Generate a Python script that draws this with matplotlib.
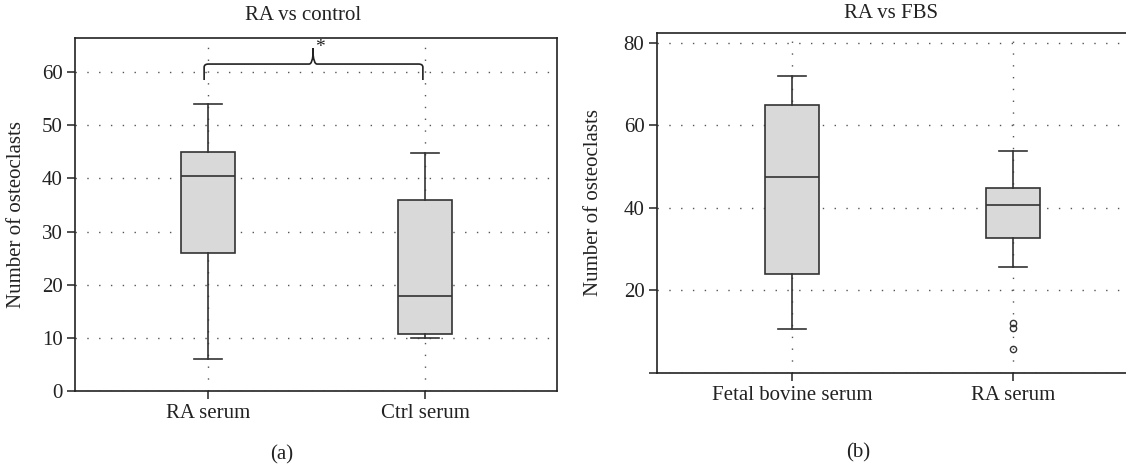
import matplotlib
matplotlib.use("Agg")
import matplotlib.pyplot as plt
from matplotlib.path import Path
from matplotlib.patches import PathPatch

plt.rcParams['font.family'] = ['Liberation Serif', 'DejaVu Serif']
plt.rcParams['font.size'] = 15

# ---- Data ----
left_categories = ["RA serum", "Ctrl serum"]
left_whislo = [6.0, 10.0]
left_q1 = [26.0, 10.8]
left_med = [40.5, 17.9]
left_q3 = [45.0, 35.9]
left_whishi = [53.9, 44.7]
left_fliers = [[], []]
left_yticks = [0, 10, 20, 30, 40, 50, 60]
left_title = "RA vs control"

right_categories = ["Fetal bovine serum", "RA serum"]
right_whislo = [10.7, 25.8]
right_q1 = [24.0, 32.8]
right_med = [47.5, 40.8]
right_q3 = [64.9, 44.8]
right_whishi = [72.0, 53.9]
right_fliers = [[], [12.0, 10.9, 5.8]]
right_yticks = [0, 20, 40, 60, 80]
right_yticklabels = ["", "20", "40", "60", "80"]
right_title = "RA vs FBS"

ylabel = "Number of osteoclasts"

W, H = 1126, 468
fig = plt.figure(figsize=(W / 100, H / 100), dpi=100)

def px_axes(l, t, r, b):
    return fig.add_axes([l / W, 1 - b / H, (r - l) / W, (b - t) / H])

ax1 = px_axes(75, 38, 557, 391)
ax2 = px_axes(657, 33, 1148, 373)

edge = "#333333"
fill = "#d9d9d9"
grid_kw = dict(color="#555555", linestyle=(0, (1, 7.5)), linewidth=1.0)

def draw(ax, cats, wl, q1, med, q3, wh, fl):
    stats = []
    for i in range(len(cats)):
        stats.append(dict(med=med[i], q1=q1[i], q3=q3[i], whislo=wl[i],
                          whishi=wh[i], fliers=fl[i], label=cats[i]))
    ax.bxp(stats, positions=range(1, len(cats) + 1), widths=0.245,
           capwidths=0.13, patch_artist=True, showfliers=True,
           boxprops=dict(facecolor=fill, edgecolor=edge, linewidth=1.2),
           medianprops=dict(color=edge, linewidth=1.2),
           whiskerprops=dict(color=edge, linewidth=1.2),
           capprops=dict(color=edge, linewidth=1.2),
           flierprops=dict(marker="o", markersize=4.5, markerfacecolor="none",
                           markeredgecolor=edge, markeredgewidth=1.0))
    ax.set_axisbelow(True)
    ax.grid(True, **grid_kw)
    for s in ax.spines.values():
        s.set_linewidth(1.2)
        s.set_color("#222222")
    ax.tick_params(direction="out", length=6, width=1.1, color="#222222",
                   pad=3, labelsize=15, labelcolor="#222222")
    ax.set_xlim(0.387, 2.608)
    ax.set_ylabel(ylabel, fontsize=15, color="#222222")
    ax.yaxis.label.set_va("center")

draw(ax1, left_categories, left_whislo, left_q1, left_med, left_q3, left_whishi, left_fliers)
ax1.set_ylim(0, 66.4)
ax1.set_yticks(left_yticks)
ax1.yaxis.set_label_coords((17 - 75) / 482, 0.5)

draw(ax2, right_categories, right_whislo, right_q1, right_med, right_q3, right_whishi, right_fliers)
ax2.set_xlim(0.389, 2.611)
ax2.set_ylim(0, 82.4)
ax2.set_yticks(right_yticks)
ax2.set_yticklabels(right_yticklabels)
ax2.yaxis.set_label_coords((593 - 657) / 491, 0.5)

# significance bracket (curly brace)
xl, xr, xp = 0.982, 1.99, 1.484
yb, yh, yp = 58.5, 61.5, 64.5
verts = [(xl, yb), (xl, yh - 0.6), (xl, yh), (xl + 0.02, yh),
         (xp - 0.018, yh), (xp - 0.004, yh), (xp, yp - 1.2), (xp, yp),
         (xp, yp - 1.2), (xp + 0.004, yh), (xp + 0.018, yh),
         (xr - 0.02, yh), (xr, yh), (xr, yh - 0.6), (xr, yb)]
codes = [Path.MOVETO, Path.LINETO, Path.CURVE3, Path.CURVE3,
         Path.LINETO, Path.CURVE3, Path.CURVE3, Path.LINETO,
         Path.LINETO, Path.CURVE3, Path.CURVE3,
         Path.LINETO, Path.CURVE3, Path.CURVE3, Path.LINETO]
ax1.add_patch(PathPatch(Path(verts, codes), facecolor="none", edgecolor="#222222",
                        linewidth=1.2, clip_on=False, zorder=5))
ax1.text(1.516, 64.6, "*", ha="center", va="center", fontsize=14, color="#222222")

# titles and panel labels
fig.text(303 / W, 1 - 15 / H, left_title, ha="center", va="center", fontsize=15, color="#222222")
fig.text(891 / W, 1 - 14 / H, right_title, ha="center", va="center", fontsize=15, color="#222222")
fig.text(282 / W, 1 - 455 / H, "(a)", ha="center", va="center", fontsize=15, color="#222222")
fig.text(858 / W, 1 - 453 / H, "(b)", ha="center", va="center", fontsize=15, color="#222222")

fig.savefig("out.png", dpi=100)
